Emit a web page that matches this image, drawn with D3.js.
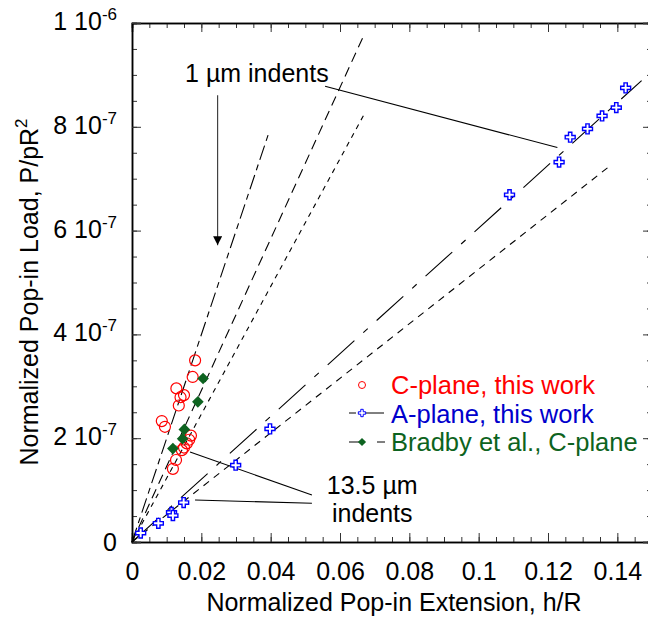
<!DOCTYPE html>
<html>
<head>
<meta charset="utf-8">
<script src="https://cdn.jsdelivr.net/npm/d3@7"></script>
<style>
  body { margin: 0; background: #fff; }
  svg { font-family: "Liberation Sans", Arial, sans-serif; }
</style>
</head>
<body>
<svg id="chart" width="648" height="619"></svg>
<script>
// values
var xTicks = [0, 0.02, 0.04, 0.06, 0.08, 0.1, 0.12, 0.14];
var yTicks = [0, 2e-7, 4e-7, 6e-7, 8e-7, 1e-6];
var yTickMant = ['0', '2 10', '4 10', '6 10', '8 10', '1 10'];
var yTickExp = ['', '-7', '-7', '-7', '-7', '-6'];

var cPlaneX = [0.0182, 0.0175, 0.0128, 0.0150, 0.0140, 0.0135, 0.0086, 0.0095, 0.0170, 0.0165, 0.0158, 0.0150, 0.0144, 0.0127, 0.0118];
var cPlaneY = [3.50e-7, 3.18e-7, 2.96e-7, 2.83e-7, 2.79e-7, 2.63e-7, 2.33e-7, 2.22e-7, 2.05e-7, 1.97e-7, 1.90e-7, 1.82e-7, 1.77e-7, 1.58e-7, 1.41e-7];

var aPlaneX = [0.0025, 0.0076, 0.0114, 0.0118, 0.0149, 0.0299, 0.0398, 0.1089, 0.1232, 0.1264, 0.1314, 0.1356, 0.1397, 0.1424];
var aPlaneY = [1.73e-8, 3.6e-8, 5.7e-8, 5.1e-8, 7.6e-8, 1.48e-7, 2.18e-7, 6.69e-7, 7.32e-7, 7.80e-7, 7.96e-7, 8.21e-7, 8.37e-7, 8.75e-7];

var bradbyX = [0.0205, 0.0190, 0.0151, 0.0146, 0.0118];
var bradbyY = [3.15e-7, 2.70e-7, 2.17e-7, 1.99e-7, 1.80e-7];

// fitted lines through the origin, end points
var fitEndX = [0.0393, 0.0672, 0.0672, 0.1470, 0.1385];
var fitEndY = [7.85e-7, 9.81e-7, 8.27e-7, 8.89e-7, 7.28e-7];
var fitDash = ['15,5,6,5', '10,6', '5,5', '36,12,6,12', '7,6'];

var legendLabels = ['C-plane, this work', 'A-plane, this work', 'Bradby et al., C-plane'];

var svg = d3.select('#chart');
var x = d3.scaleLinear().domain([0, 0.15]).range([132, 652]);
var y = d3.scaleLinear().domain([0, 1e-6]).range([542, 23]);

var minorX = d3.range(0, 0.1501, 0.005);
var minorY = d3.range(0, 1.0001e-6, 5e-8);

function styleAxis(g){
  g.select('.domain').attr('stroke', '#000').attr('stroke-width', 1.5);
  g.selectAll('.tick line').attr('stroke', '#333');
}

// minor ticks
svg.append('g').attr('transform', 'translate(0,542)')
  .call(d3.axisBottom(x).tickValues(minorX).tickSize(-5).tickFormat(''))
  .call(styleAxis);
svg.append('g').attr('transform', 'translate(0,23)')
  .call(d3.axisTop(x).tickValues(minorX).tickSize(-5).tickFormat(''))
  .call(styleAxis);
svg.append('g').attr('transform', 'translate(132,0)')
  .call(d3.axisLeft(y).tickValues(minorY).tickSize(-5).tickFormat(''))
  .call(styleAxis);
svg.append('g').attr('transform', 'translate(652,0)')
  .call(d3.axisRight(y).tickValues(minorY).tickSize(-5).tickFormat(''))
  .call(styleAxis);

// major ticks
var xAxis = svg.append('g').attr('transform', 'translate(0,542)')
  .call(d3.axisBottom(x).tickValues(xTicks).tickSize(-9).tickPadding(20).tickFormat(d3.format('')))
  .call(styleAxis);
xAxis.selectAll('text').attr('font-size', 25).attr('fill', '#000')
  .attr('font-family', '"Liberation Sans", Arial, sans-serif');
svg.append('g').attr('transform', 'translate(0,23)')
  .call(d3.axisTop(x).tickValues(xTicks).tickSize(-9).tickFormat(''))
  .call(styleAxis);
svg.append('g').attr('transform', 'translate(132,0)')
  .call(d3.axisLeft(y).tickValues(yTicks).tickSize(-9).tickFormat(''))
  .call(styleAxis);
svg.append('g').attr('transform', 'translate(652,0)')
  .call(d3.axisRight(y).tickValues(yTicks).tickSize(-9).tickFormat(''))
  .call(styleAxis);

// y tick labels with superscripts
var yl = svg.append('g').selectAll('text')
  .data(yTicks).enter()
  .append('text')
  .attr('x', 117)
  .attr('y', function(d, i){ return y(d) + (yTickExp[i] ? 7 : 9); })
  .attr('text-anchor', 'end')
  .attr('font-size', 25);
yl.append('tspan').text(function(d, i){ return yTickMant[i]; });
yl.append('tspan').attr('font-size', 17).attr('dy', -10)
  .text(function(d, i){ return yTickExp[i]; });

// axis titles
svg.append('text')
  .attr('x', 394).attr('y', 611)
  .attr('text-anchor', 'middle')
  .attr('font-size', 25)
  .text('Normalized Pop-in Extension, h/R');

var yt = svg.append('text')
  .attr('transform', 'translate(38,292) rotate(-90)')
  .attr('text-anchor', 'middle')
  .attr('font-size', 25);
yt.append('tspan').text('Normalized Pop-in Load, P/pR');
yt.append('tspan').attr('font-size', 17).attr('dy', -11).text('2');

// fit lines
svg.append('g').selectAll('line')
  .data(fitEndX).enter()
  .append('line')
  .attr('x1', x(0)).attr('y1', y(0))
  .attr('x2', function(d){ return x(d); })
  .attr('y2', function(d, i){ return y(fitEndY[i]); })
  .attr('stroke', '#000')
  .attr('stroke-width', 1.1)
  .attr('stroke-dasharray', function(d, i){ return fitDash[i]; });

// annotations
var leaders = [
  [0.0557, 8.78e-7, 0.1227, 7.60e-7],
  [0.01674, 1.734e-7, 0.0519, 9.06e-8],
  [0.01818, 8.09e-8, 0.0519, 7.46e-8]
];
svg.append('g').selectAll('line')
  .data(leaders).enter()
  .append('line')
  .attr('x1', function(d){ return x(d[0]); })
  .attr('y1', function(d){ return y(d[1]); })
  .attr('x2', function(d){ return x(d[2]); })
  .attr('y2', function(d){ return y(d[3]); })
  .attr('stroke', '#000')
  .attr('stroke-width', 1.1);

svg.append('defs').append('marker')
  .attr('id', 'arrow')
  .attr('viewBox', '0 0 10 10')
  .attr('refX', 10).attr('refY', 5)
  .attr('markerWidth', 9).attr('markerHeight', 9)
  .attr('markerUnits', 'userSpaceOnUse')
  .attr('orient', 'auto')
  .append('path').attr('d', 'M0,0L10,5L0,10Z').attr('fill', '#000');

svg.append('line')
  .attr('x1', x(0.0247)).attr('y1', y(8.61e-7))
  .attr('x2', x(0.0247)).attr('y2', y(5.72e-7))
  .attr('stroke', '#333')
  .attr('stroke-width', 1.1)
  .attr('marker-end', 'url(#arrow)');

svg.append('text')
  .attr('x', x(0.0153)).attr('y', y(8.86e-7))
  .attr('font-size', 25)
  .text('1 \u00b5m indents');
svg.append('text')
  .attr('x', x(0.0693)).attr('y', y(9.25e-8))
  .attr('text-anchor', 'middle')
  .attr('font-size', 25)
  .text('13.5 \u00b5m');
svg.append('text')
  .attr('x', x(0.0693)).attr('y', y(3.85e-8))
  .attr('text-anchor', 'middle')
  .attr('font-size', 25)
  .text('indents');

// data points
var cross = d3.symbol().type(d3.symbolCross).size(55);
var diamond = d3.symbol().type(d3.symbolSquare).size(68);

svg.append('g').selectAll('circle')
  .data(cPlaneX).enter()
  .append('circle')
  .attr('cx', function(d){ return x(d); })
  .attr('cy', function(d, i){ return y(cPlaneY[i]); })
  .attr('r', 5.5)
  .attr('fill', 'none')
  .attr('stroke', '#ff0000')
  .attr('stroke-width', 1.2);

svg.append('g').selectAll('path')
  .data(bradbyX).enter()
  .append('path')
  .attr('d', diamond)
  .attr('transform', function(d, i){ return 'translate(' + x(d) + ',' + y(bradbyY[i]) + ') rotate(45)'; })
  .attr('fill', '#0d6320');

svg.append('g').selectAll('path')
  .data(aPlaneX).enter()
  .append('path')
  .attr('d', cross)
  .attr('transform', function(d, i){ return 'translate(' + x(d) + ',' + y(aPlaneY[i]) + ')'; })
  .attr('fill', '#fff')
  .attr('stroke', '#0000ff')
  .attr('stroke-width', 1.4);

// legend
var lg = svg.append('g');
lg.append('circle').attr('cx', 362).attr('cy', 385).attr('r', 3.5)
  .attr('fill', 'none').attr('stroke', '#ff0000');
lg.append('line').attr('x1', 349).attr('x2', 384).attr('y1', 413).attr('y2', 413)
  .attr('stroke', '#000').attr('stroke-dasharray', '7,3,40');
lg.append('path').attr('d', d3.symbol().type(d3.symbolCross).size(30))
  .attr('transform', 'translate(362,413)')
  .attr('fill', '#fff').attr('stroke', '#0000ff');
lg.append('line').attr('x1', 349).attr('x2', 385).attr('y1', 442).attr('y2', 442)
  .attr('stroke', '#000').attr('stroke-dasharray', '13,15,8');
lg.append('path').attr('d', d3.symbol().type(d3.symbolSquare).size(34))
  .attr('transform', 'translate(362,442) rotate(45)')
  .attr('fill', '#0d6320');

var legendColors = ['#ff0000', '#0000cc', '#0d6320'];
lg.selectAll('text')
  .data(legendLabels).enter()
  .append('text')
  .attr('x', 391)
  .attr('y', function(d, i){ return 394 + i * 28.5; })
  .attr('font-size', 25.5)
  .attr('fill', function(d, i){ return legendColors[i]; })
  .text(function(d){ return d; });
</script>
</body>
</html>
